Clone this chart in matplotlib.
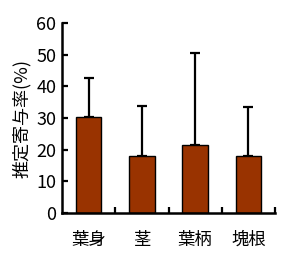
import matplotlib
matplotlib.use("Agg")
import matplotlib.pyplot as plt

categories = ["葉身", "茎", "葉柄", "塊根"]
values = [30.2, 18.0, 21.4, 18.0]
err_upper = [12.5, 15.9, 29.0, 15.5]
yticks = [0, 10, 20, 30, 40, 50, 60]

plt.rcParams['font.family'] = ['Noto Sans CJK JP', 'DejaVu Sans']

fig = plt.figure(figsize=(2.91, 2.61), dpi=100)
ax = fig.add_axes([62/291, (261-213)/261, (275-62)/291, (213-23)/261])

x = list(range(len(categories)))
ax.bar(x, values, width=0.48, color="#993300", edgecolor="black", linewidth=1.0, zorder=2)
ax.errorbar(x, values, yerr=[[0]*len(values), err_upper], fmt="none", ecolor="black",
            elinewidth=1.6, capsize=3.5, capthick=1.6, zorder=1)

ax.set_xlim(-0.5, 3.5)
ax.set_ylim(0, 60)
ax.set_yticks(yticks)
ax.set_yticklabels([str(v) for v in yticks], fontsize=13)
ax.set_xticks(x)
ax.set_xticklabels(categories, fontsize=12.5)
ax.set_xticks([0.5, 1.5, 2.5, 3.5], minor=True)
ax.tick_params(axis='x', which='major', length=0, pad=13)
ax.tick_params(axis='x', which='minor', direction='in', length=4, width=1.6)
ax.tick_params(axis='y', direction='in', length=4, width=1.6, pad=4)
for s in ['top', 'right']:
    ax.spines[s].set_visible(False)
for s in ['left', 'bottom']:
    ax.spines[s].set_linewidth(1.8)
ax.set_ylabel("推定寄与率(%)", fontsize=13, labelpad=4)

fig.savefig("out.png", dpi=100)
